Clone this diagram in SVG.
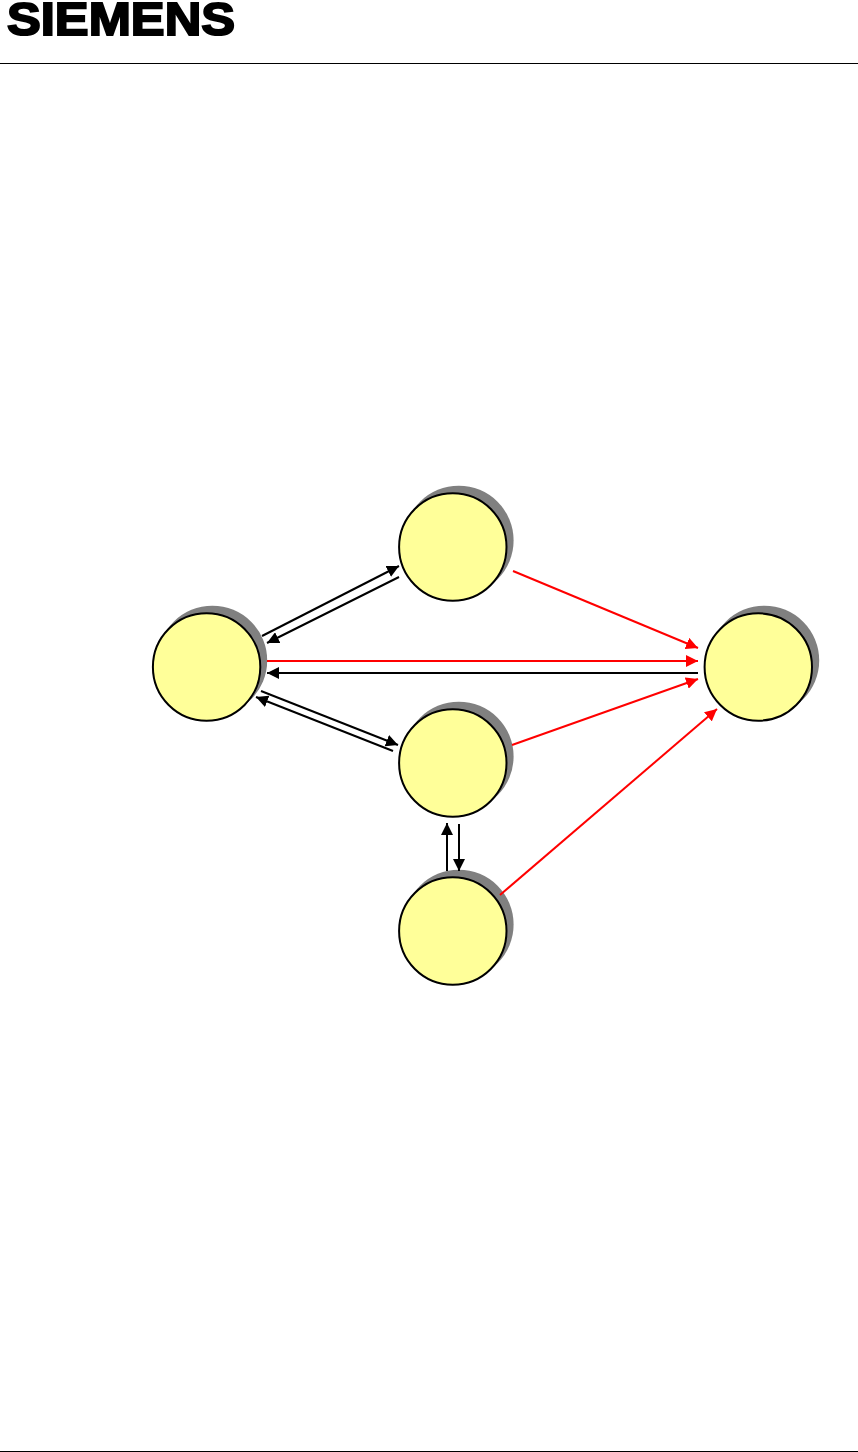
<svg xmlns="http://www.w3.org/2000/svg" width="858" height="1452" viewBox="0 0 858 1452">
<style>
.shadow{fill:#808080}
.disc{fill:#ffff99;stroke:#000;stroke-width:2}
.rule{stroke:#000;stroke-width:1}
.k{stroke:#000;stroke-width:2;fill:none;marker-end:url(#ak)}
.r{stroke:#f00;stroke-width:2;fill:none;marker-end:url(#ar)}
.logo{font-family:"Liberation Sans",Arial,sans-serif;font-weight:700;font-size:47px;fill:#000;stroke:#000;stroke-width:2}
</style>
<defs>
<marker id="ak" viewBox="0 0 12 12" refX="12" refY="6" markerWidth="12" markerHeight="12" markerUnits="userSpaceOnUse" orient="auto"><path d="M0 0L12 6L0 12z" fill="#000"/></marker>
<marker id="ar" viewBox="0 0 12 12" refX="12" refY="6" markerWidth="12" markerHeight="12" markerUnits="userSpaceOnUse" orient="auto"><path d="M0 0L12 6L0 12z" fill="#f00"/></marker>
</defs>
<rect width="858" height="1452" fill="#fff"/>
<text class="logo" x="7" y="35" textLength="228" lengthAdjust="spacingAndGlyphs">SIEMENS</text>
<line class="rule" x1="0" y1="63.5" x2="858" y2="63.5"/>
<line class="rule" x1="0" y1="1451.5" x2="858" y2="1451.5"/>
<g id="node-left"><circle class="shadow" cx="212.4" cy="660.5" r="54.8"/><circle class="disc" cx="206.6" cy="667" r="53.7"/></g>
<g id="node-top"><circle class="shadow" cx="458.8" cy="540.5" r="54.8"/><circle class="disc" cx="452.8" cy="547" r="53.7"/></g>
<g id="node-middle"><circle class="shadow" cx="458.8" cy="756.5" r="54.8"/><circle class="disc" cx="452.8" cy="763" r="53.7"/></g>
<g id="node-bottom"><circle class="shadow" cx="458.8" cy="924.5" r="54.8"/><circle class="disc" cx="452.8" cy="931" r="53.7"/></g>
<g id="node-right"><circle class="shadow" cx="764.4" cy="660.5" r="54.8"/><circle class="disc" cx="758.3" cy="667" r="53.7"/></g>
<g id="connectors">
<line class="k" x1="262" y1="636" x2="399" y2="566"/>
<line class="k" x1="399" y1="577" x2="267" y2="643"/>
<line class="k" x1="261" y1="691" x2="398" y2="745"/>
<line class="k" x1="393" y1="751" x2="256" y2="697"/>
<line class="k" x1="698" y1="673" x2="267" y2="673"/>
<line class="k" x1="447" y1="871" x2="447" y2="823"/>
<line class="k" x1="459" y1="824" x2="459" y2="871"/>
<line class="r" x1="267" y1="661" x2="698" y2="661"/>
<line class="r" x1="513" y1="571" x2="698" y2="648"/>
<line class="r" x1="512" y1="745" x2="698" y2="679"/>
<line class="r" x1="500" y1="895" x2="717" y2="709"/>
</g>
</svg>
